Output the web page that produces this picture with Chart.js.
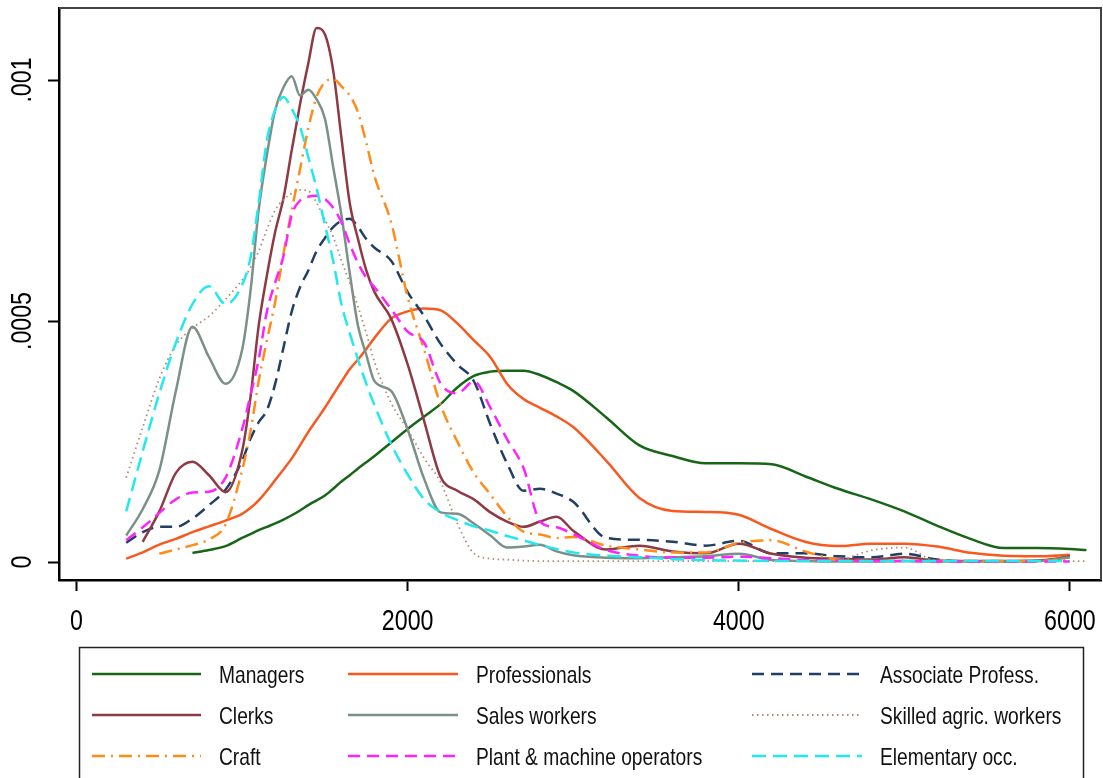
<!DOCTYPE html>
<html><head><meta charset="utf-8">
<script src="https://cdn.jsdelivr.net/npm/chart.js@4/dist/chart.umd.min.js"></script>
<style>html,body{margin:0;padding:0;background:#fff}canvas{display:block}</style>
</head><body>
<canvas id="c" width="1103" height="778"></canvas>
<script>
// Income grid (x values)
const income = [300,400,500,600,700,800,900,
  1000,1050,1100,1150,1200,1250,1300,1350,1400,1450,1500,1550,1600,1650,1700,1750,1800,
  1900,2000,2100,2200,2300,2400,2500,2600,2700,2800,2900,3000,
  3200,3400,3600,3800,4000,4200,4400,4600,4800,5000,5200,5400,5600,5800,6000,6100];

// Kernel densities, in units of 1e-4
const managers = [null,null,null,null,0.19,0.25,0.33,
  0.5,0.58,0.66,0.73,0.8,0.88,0.97,1.07,1.18,1.28,1.38,1.52,1.67,1.8,1.94,2.07,2.2,
  2.48,2.76,3.02,3.28,3.62,3.86,3.95,3.97,3.97,3.88,3.73,3.55,
  3.0,2.42,2.2,2.05,2.05,2.03,1.78,1.52,1.3,1.05,0.75,0.48,0.29,0.29,0.27,0.25];
const professionals = [0.07,0.2,0.36,0.48,0.62,0.74,0.86,
  1.0,1.12,1.28,1.48,1.7,1.92,2.15,2.42,2.7,2.95,3.2,3.47,3.74,4.0,4.2,4.42,4.65,
  5.05,5.2,5.26,5.22,4.95,4.6,4.25,3.7,3.38,3.2,3.02,2.8,
  2.1,1.33,1.06,1.04,0.98,0.68,0.42,0.33,0.38,0.38,0.32,0.19,0.13,0.12,0.15,null];
const associate = [0.4,0.62,0.73,0.73,0.9,1.18,1.5,
  2.1,2.55,2.9,3.15,3.7,4.45,5.2,5.7,6.05,6.45,6.72,6.95,7.08,7.12,6.95,6.7,6.52,
  6.25,5.6,5.1,4.52,4.1,3.75,2.85,2.05,1.48,1.52,1.42,1.25,
  0.5,0.46,0.42,0.34,0.44,0.18,0.18,0.12,0.1,0.17,0.05,0.01,0.01,0.02,0.11,null];
const clerks = [null,0.42,1.05,1.85,2.08,1.8,1.45,
  2.3,3.4,4.9,5.95,6.85,7.55,8.55,9.5,10.35,11.08,10.95,10.2,8.8,7.45,6.7,6.05,5.6,
  5.05,4.1,2.92,1.76,1.48,1.3,1.03,0.84,0.73,0.84,0.94,0.65,
  0.26,0.34,0.22,0.18,0.38,0.17,0.09,0.07,0.05,0.1,0.03,0.02,0.02,0.03,0.11,null];
const sales = [0.55,1.1,1.9,3.55,4.88,4.25,3.7,
  4.4,5.6,7.3,8.45,9.38,9.85,10.08,9.68,9.8,9.6,9.2,8.2,7.2,6.0,4.9,4.3,3.75,
  3.55,2.75,1.72,1.03,1.0,0.8,0.55,0.3,0.32,0.36,0.22,0.14,
  0.09,0.08,0.1,0.12,0.17,0.04,0.02,0.01,0.01,0.02,0.01,0.01,0.01,0.02,0.1,null];
const skilled = [1.75,2.8,3.8,4.5,4.85,5.1,5.45,
  5.85,6.1,6.45,6.9,7.3,7.52,7.65,7.72,7.7,7.45,7.1,6.75,6.25,5.8,5.3,4.75,4.15,
  3.3,2.75,2.15,1.65,0.8,0.18,0.07,0.05,0.03,0.02,0.02,0.02,
  0.02,0.02,0.02,0.02,0.02,0.02,0.02,0.04,0.24,0.3,0.02,0.02,0.02,0.02,0.02,0.02];
const craft = [null,null,0.17,0.26,0.35,0.47,0.78,
  1.9,2.7,3.75,4.6,5.4,6.4,7.3,8.15,9.0,9.65,9.95,10.02,9.87,9.68,9.33,8.7,8.0,
  7.05,5.5,4.4,3.25,2.5,1.85,1.4,0.95,0.63,0.57,0.5,0.52,
  0.34,0.26,0.2,0.2,0.4,0.45,0.22,0.05,0.02,0.02,0.02,0.02,0.02,0.02,0.05,null];
const plant = [0.45,0.72,1.02,1.3,1.44,1.46,1.75,
  2.75,3.45,4.2,5.2,5.8,6.35,7.2,7.5,7.58,7.6,7.53,7.35,7.05,6.6,6.2,5.9,5.7,
  5.25,4.78,4.55,3.7,3.5,3.75,3.2,2.55,1.95,0.84,0.72,0.58,
  0.25,0.13,0.09,0.09,0.11,0.08,0.04,0.03,0.02,0.02,0.01,0.01,0.01,0.01,0.01,null];
const elementary = [1.05,2.3,3.5,4.55,5.35,5.72,5.35,
  5.75,6.3,7.45,8.75,9.38,9.65,9.4,9.03,8.4,7.75,7.0,6.25,5.35,4.75,4.2,3.7,3.25,
  2.45,1.82,1.3,1.03,0.87,0.74,0.65,0.54,0.45,0.35,0.27,0.2,
  0.13,0.1,0.06,0.04,0.03,0.02,0.02,0.02,0.02,0.02,0.02,0.02,0.02,0.02,0.02,null];

const seriesNames = ['Managers','Professionals','Associate Profess.','Clerks','Sales workers',
  'Skilled agric. workers','Craft','Plant & machine operators','Elementary occ.'];
const seriesValues = [managers,professionals,associate,clerks,sales,skilled,craft,plant,elementary];

const xTicks = [0,2000,4000,6000];
const xTickLabels = ['0','2000','4000','6000'];
const yTicks = [0,0.0005,0.001];
const yTickLabels = ['0','.0005','.001'];

const FONT = "'Liberation Sans',Arial,sans-serif";
const NARROW = 0.8; // horizontal squeeze to mimic a narrow Helvetica
const styles = [
  {c:'#176617', d:[], w:2.5},
  {c:'#f7591f', d:[], w:2.5},
  {c:'#213f63', d:[12,7], w:2.5},
  {c:'#8e3a45', d:[], w:2.5},
  {c:'#7b9088', d:[], w:2.5},
  {c:'#b08a78', d:[1.5,3.5], w:1.8},
  {c:'#ff8c1a', d:[13,6,2,6], w:2.5},
  {c:'#ff22ff', d:[12,7], w:2.5},
  {c:'#22e8f0', d:[14,7], w:2.5}
];

const datasets = seriesNames.map((name,i)=>({
  label:name,
  data: income.map((x,j)=>({x:x, y: seriesValues[i][j]==null ? null : seriesValues[i][j]*1e-4})),
  borderColor: styles[i].c,
  borderDash: styles[i].d,
  borderWidth: styles[i].w,
  pointRadius:0,
  fill:false,
  order:-i
}));

function narrowText(ctx, text, x, y, size, rot){
  ctx.save();
  ctx.translate(x,y);
  if(rot) ctx.rotate(rot);
  ctx.scale(NARROW,1);
  ctx.font = size + 'px ' + FONT;
  ctx.fillText(text,0,0);
  ctx.restore();
}

const legendPlugin = {
  id:'stataLegend',
  afterDraw(chart){
    const ctx = chart.ctx;
    const rows = [674,715,756];
    const cols = [[92,201,219],[348,458,476],[752,862,880]];
    ctx.save();
    ctx.strokeStyle = '#222'; ctx.lineWidth = 1.5;
    ctx.strokeRect(79.5,647.5,1004,150);
    chart.data.datasets.forEach((ds,i)=>{
      const y = rows[Math.floor(i/3)], col = cols[i%3];
      ctx.beginPath();
      ctx.setLineDash(ds.borderDash||[]);
      ctx.lineWidth = ds.borderWidth;
      ctx.strokeStyle = ds.borderColor;
      ctx.moveTo(col[0],y); ctx.lineTo(col[1],y); ctx.stroke();
      ctx.setLineDash([]);
      ctx.fillStyle = '#111';
      ctx.textBaseline = 'alphabetic';
      ctx.textAlign = 'left';
      narrowText(ctx, ds.label, col[2], y+8.5, 24, 0);
    });
    ctx.restore();
  }
};
const axisLabelPlugin = {
  id:'axisLabels',
  afterDraw(chart){
    const ctx = chart.ctx, xs = chart.scales.x, ys = chart.scales.y;
    ctx.save();
    ctx.fillStyle = '#000';
    ctx.textAlign = 'center';
    ctx.textBaseline = 'alphabetic';
    xTicks.forEach((v,i)=>narrowText(ctx, xTickLabels[i], xs.getPixelForValue(v), 630, 29, 0));
    yTicks.forEach((v,i)=>narrowText(ctx, yTickLabels[i], 31, ys.getPixelForValue(v), 29, -Math.PI/2));
    ctx.restore();
  }
};
const framePlugin = {
  id:'frame',
  afterDraw(chart){
    const a = chart.chartArea, ctx = chart.ctx;
    ctx.save();
    ctx.strokeStyle = '#444'; ctx.lineWidth = 2;
    ctx.beginPath(); ctx.moveTo(a.left,a.top); ctx.lineTo(a.right,a.top); ctx.lineTo(a.right,a.bottom); ctx.stroke();
    ctx.restore();
  }
};

new Chart(document.getElementById('c'), {
  type:'line',
  data:{datasets},
  plugins:[legendPlugin, axisLabelPlugin, framePlugin],
  options:{
    responsive:false, animation:false, devicePixelRatio:1,
    layout:{padding:{top:8,right:2,bottom:138,left:0}},
    plugins:{legend:{display:false}, tooltip:{enabled:false}},
    elements:{line:{cubicInterpolationMode:'monotone'}, point:{radius:0}},
    scales:{
      x:{
        type:'linear', min:-106, max:6188,
        afterBuildTicks:s=>{ s.ticks = xTicks.map(v=>({value:v})); },
        afterFit:s=>{ s.height = 60; },
        grid:{drawOnChartArea:false, drawTicks:true, tickLength:11, tickWidth:2, tickColor:'#000'},
        border:{display:true, color:'#000', width:2.5},
        ticks:{display:false}
      },
      y:{
        type:'linear', min:-0.0000373, max:0.0011494,
        afterBuildTicks:s=>{ s.ticks = yTicks.map(v=>({value:v})); },
        afterFit:s=>{ s.width = 59; },
        grid:{drawOnChartArea:false, drawTicks:true, tickLength:11, tickWidth:2, tickColor:'#000'},
        border:{display:true, color:'#000', width:2.5},
        ticks:{display:false}
      }
    }
  }
});
</script>
</body></html>
